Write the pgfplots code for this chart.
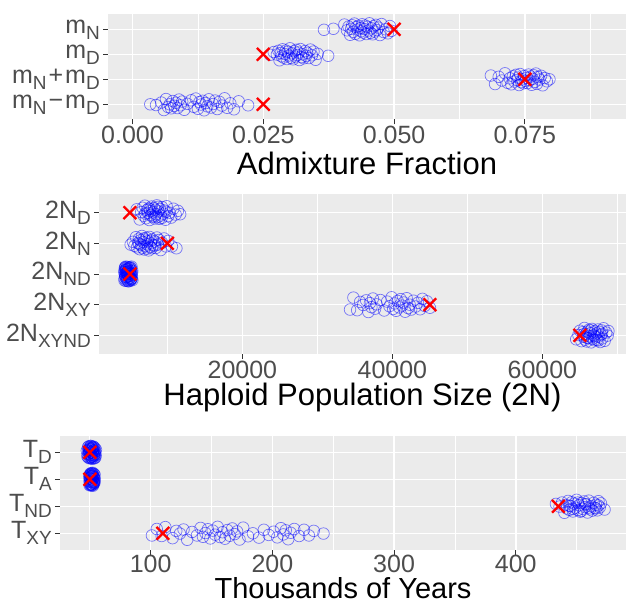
\documentclass[border=0pt]{standalone}
\usepackage{fontspec}
\setmainfont{Liberation Sans}
\usepackage{pgfplots}
\pgfplotsset{compat=1.18}

\definecolor{ggbg}{HTML}{EBEBEB}
\definecolor{ggtick}{HTML}{333333}
\definecolor{ggtext}{HTML}{4D4D4D}

% subscript as plotmath draws it
\newcommand{\sub}[1]{\raisebox{-6pt}{\fontsize{19}{19}\selectfont #1}}

\pgfplotsset{
  ggpanel/.style={
    scale only axis,
    anchor=north west,
    axis x line*=bottom,
    axis y line*=left,
    axis line style={draw=none},
    axis background/.style={fill=ggbg},
    tick align=outside,
    major tick length=5pt,
    minor tick length=0pt,
    major tick style={ggtick, line width=1pt},
    grid=both,
    major grid style={white, line width=1.5pt},
    minor grid style={white, line width=0.75pt},
    scaled ticks=false,
    ticklabel style={font=\fontsize{25}{30}\selectfont, text=ggtext, inner sep=2pt},
    yticklabel style={xshift=-1pt},
    xlabel style={font=\fontsize{31}{36}\selectfont, text=black,
      at={(axis description cs:0.5,0)}, anchor=center, yshift=-44pt},
  },
  jit/.style={only marks, mark=o, mark size=5.8pt,
    mark options={draw=blue, draw opacity=0.5, line width=0.7pt, fill=none}},
  truth/.style={only marks, mark=x, mark size=9pt,
    mark options={draw=red, line width=2.3pt}},
}

\begin{document}
\begin{tikzpicture}
\useasboundingbox (0pt,0pt) rectangle (626pt,-606pt);

% ---- admixture fractions
\begin{axis}[ggpanel, at={(108pt,-14.3pt)}, width=518pt, height=105pt,
  xmin=-0.00468, xmax=0.09433, ymin=0.4, ymax=4.6,
  xtick={0,0.025,0.05,0.075}, xticklabels={0.000,0.025,0.050,0.075},
  minor xtick={0.0125,0.0375,0.0625,0.0875},
  ytick={1,2,3,4},
  yticklabels={m\sub{N}\kern2pt−\kern2pt m\sub{D}, m\sub{N}\kern2pt+\kern2pt m\sub{D}, m\sub{D}, m\sub{N}},
  xlabel={Admixture Fraction}]
\addplot[jit] coordinates {
(0.0366,3.98) (0.0384,4.02) (0.0405,4.19) (0.0410,3.96) (0.0413,4.11) (0.0416,3.78) (0.0418,4.02) (0.0420,4.16) (0.0422,3.90) (0.0424,4.23)
(0.0426,3.82) (0.0428,4.09) (0.0430,3.99) (0.0432,4.14) (0.0434,3.76) (0.0436,4.05) (0.0437,3.92) (0.0439,4.20) (0.0441,3.87) (0.0443,4.01)
(0.0445,4.15) (0.0447,3.81) (0.0449,4.10) (0.0451,3.95) (0.0453,4.24) (0.0455,3.86) (0.0457,4.04) (0.0459,3.80) (0.0461,4.12) (0.0463,3.91)
(0.0465,4.18) (0.0467,3.97) (0.0470,4.07) (0.0473,3.77) (0.0476,4.21) (0.0480,3.89) (0.0484,4.00) (0.0488,3.84) (0.0492,4.13) (0.0495,3.94)
};
\addplot[jit] coordinates {
(0.0263,2.98) (0.0270,3.09) (0.0276,2.99) (0.0279,3.14) (0.0281,2.76) (0.0283,3.05) (0.0285,2.92) (0.0287,3.20) (0.0289,2.87) (0.0291,3.01)
(0.0293,3.15) (0.0295,2.81) (0.0297,3.10) (0.0299,2.95) (0.0301,3.24) (0.0303,2.86) (0.0305,3.04) (0.0307,2.80) (0.0309,3.12) (0.0311,2.91)
(0.0313,3.18) (0.0315,2.97) (0.0317,3.07) (0.0319,2.77) (0.0321,3.21) (0.0323,2.89) (0.0325,3.00) (0.0327,2.84) (0.0330,3.13) (0.0332,2.94)
(0.0334,3.06) (0.0337,2.85) (0.0340,3.19) (0.0343,2.96) (0.0346,3.11) (0.0350,2.78) (0.0354,3.02) (0.0374,2.94)
};
\addplot[jit] coordinates {
(0.0685,2.15) (0.0693,1.81) (0.0700,2.10) (0.0706,1.95) (0.0712,2.24) (0.0717,1.86) (0.0721,2.04) (0.0724,1.80) (0.0727,2.12) (0.0730,1.91)
(0.0733,2.18) (0.0735,1.97) (0.0737,2.07) (0.0739,1.77) (0.0741,2.21) (0.0743,1.89) (0.0745,2.00) (0.0747,1.84) (0.0749,2.13) (0.0751,1.94)
(0.0753,2.06) (0.0755,1.85) (0.0757,2.19) (0.0759,1.96) (0.0761,2.11) (0.0763,1.78) (0.0765,2.02) (0.0767,2.16) (0.0769,1.90) (0.0771,2.23)
(0.0773,1.82) (0.0775,2.09) (0.0778,1.99) (0.0781,2.14) (0.0784,1.76) (0.0788,2.05) (0.0792,1.92) (0.0797,2.00)
};
\addplot[jit] coordinates {
(0.0034,1.00) (0.0045,0.97) (0.0055,1.07) (0.0060,0.77) (0.0064,1.21) (0.0068,0.89) (0.0071,1.00) (0.0074,0.84) (0.0077,1.13) (0.0080,0.94)
(0.0083,1.06) (0.0086,0.85) (0.0089,1.19) (0.0092,0.96) (0.0095,1.11) (0.0099,0.78) (0.0105,1.02) (0.0112,1.16) (0.0117,0.90) (0.0121,1.23)
(0.0125,0.82) (0.0128,1.09) (0.0131,0.99) (0.0134,1.14) (0.0137,0.76) (0.0140,1.05) (0.0143,0.92) (0.0146,1.20) (0.0150,0.87) (0.0154,1.01)
(0.0158,1.15) (0.0162,0.81) (0.0166,1.10) (0.0171,0.95) (0.0176,1.24) (0.0181,0.86) (0.0187,1.04) (0.0194,0.80) (0.0203,1.12) (0.0221,0.96)
};
\addplot[truth] coordinates {(0.050,4) (0.025,3) (0.075,2) (0.025,1)};
\end{axis}

% ---- population sizes
\begin{axis}[ggpanel, at={(99pt,-194.3pt)}, width=527pt, height=159.4pt,
  xmin=880, xmax=71147, ymin=0.4, ymax=5.6,
  xtick={20000,40000,60000}, xticklabels={20000,40000,60000},
  minor xtick={10000,30000,50000,70000},
  ytick={1,2,3,4,5},
  yticklabels={2N\sub{XYND}, 2N\sub{XY}, 2N\sub{ND}, 2N\sub{N}, 2N\sub{D}},
  xlabel={Haploid Population Size (2N)}]
\addplot[jit] coordinates {
(5900,5.11) (6300,4.78) (6500,5.02) (6700,5.16) (6850,4.90) (7000,5.23) (7150,4.82) (7300,5.09) (7400,4.99) (7500,5.14)
(7600,4.76) (7700,5.05) (7800,4.92) (7900,5.20) (8000,4.87) (8100,5.01) (8200,5.15) (8300,4.81) (8400,5.10) (8500,4.95)
(8600,5.24) (8700,4.86) (8800,5.04) (8900,4.80) (9000,5.12) (9150,4.91) (9300,5.18) (9450,4.97) (9600,5.07) (9750,4.77)
(9900,5.21) (10100,4.89) (10300,5.00) (10500,4.84) (10800,5.13) (11100,4.94) (11400,5.06) (11700,4.95)
(7050,4.97) (7650,5.12) (8250,4.88) (8750,5.19) (9250,4.83) (9850,5.03)
};
\addplot[jit] coordinates {
(5100,3.96) (5400,4.05) (5600,3.92) (5800,4.20) (5950,3.87) (6100,4.01) (6200,4.15) (6300,3.81) (6400,4.10) (6500,3.95)
(6600,4.24) (6700,3.86) (6800,4.04) (6900,3.80) (7000,4.12) (7100,3.91) (7200,4.18) (7300,3.97) (7400,4.07) (7500,3.77)
(7600,4.21) (7700,3.89) (7800,4.00) (7900,3.84) (8000,4.13) (8150,3.94) (8300,4.06) (8450,3.85) (8600,4.19) (8750,3.96)
(8900,4.11) (9100,3.78) (9300,4.02) (9550,4.16) (9800,3.90) (10100,4.08) (10600,3.90) (11200,3.84)
(6250,3.98) (6850,4.16) (7350,3.83) (7850,4.09) (8350,3.93)
};
\addplot[jit] coordinates {
(4250,3.06) (4290,2.85) (4330,3.19) (4370,2.96) (4410,3.11) (4450,2.78) (4490,3.02) (4530,3.16) (4570,2.90) (4610,3.23)
(4650,2.82) (4690,3.09) (4730,2.99) (4770,3.14) (4810,2.76) (4850,3.05) (4890,2.92) (4930,3.20) (4970,2.87) (5010,3.01)
(5050,3.15) (5090,2.81) (5130,3.10) (5170,2.95) (5210,3.24) (5250,2.86) (5290,3.04) (5330,2.80) (4300,3.12) (4400,2.91)
(4500,3.18) (4600,2.97) (4700,3.07) (4800,2.77) (4900,3.21) (5000,2.89) (5100,3.00) (5200,2.84) (4550,3.13) (4750,2.94)
(4280,2.79) (4360,3.22) (4440,2.88) (4520,3.04) (4620,2.79) (4720,3.17) (4820,2.93) (4920,3.08) (5020,2.78) (5120,3.19)
(5220,2.98) (5310,3.11) (4340,2.99) (4660,3.01) (4980,3.03) (5160,2.83) (4460,3.24) (4860,2.83) (5060,3.22) (4580,3.06)
};
\addplot[jit] coordinates {
(34350,1.84) (34800,2.23) (35300,1.82) (35700,2.09) (36100,1.99) (36500,2.14) (36800,1.76) (37000,2.05) (37200,1.92) (37400,2.20)
(37700,1.87) (37900,2.01) (38400,2.15) (38900,1.81) (39300,2.10) (39600,1.95) (39900,2.24) (40100,1.86) (40300,2.04) (40500,1.80)
(40700,2.12) (40900,1.91) (41100,2.18) (41300,1.97) (41500,2.07) (41700,1.77) (41900,2.21) (42100,1.89) (42300,2.00) (42500,1.84)
(42800,2.13) (43100,1.94) (43400,2.06) (43700,1.85) (44000,2.19) (44300,1.96) (44600,2.11) (45000,1.90)
};
\addplot[jit] coordinates {
(64500,0.87) (64800,1.01) (65000,1.15) (65200,0.81) (65350,1.10) (65500,0.95) (65600,1.24) (65700,0.86) (65800,1.04) (65900,0.80)
(66000,1.12) (66100,0.91) (66200,1.18) (66300,0.97) (66400,1.07) (66500,0.77) (66600,1.21) (66700,0.89) (66800,1.00) (66900,0.84)
(67000,1.13) (67100,0.94) (67200,1.06) (67300,0.85) (67400,1.19) (67500,0.96) (67600,1.11) (67700,0.78) (67800,1.02) (67900,1.16)
(68000,0.90) (68150,1.23) (68300,0.82) (68500,1.09) (68700,0.99) (68800,1.14)
(65450,1.03) (65950,0.92) (66450,1.16) (66950,0.98) (67450,0.83) (67950,1.05)
};
\addplot[truth] coordinates {(5000,5) (10000,4) (5000,3) (45000,2) (65000,1)};
\end{axis}

% ---- times
\begin{axis}[ggpanel, at={(60pt,-436.1pt)}, width=566pt, height=113.4pt,
  xmin=25.47, xmax=490.6, ymin=0.4, ymax=4.6,
  xtick={100,200,300,400}, xticklabels={100,200,300,400},
  minor xtick={50,150,250,350,450},
  ytick={1,2,3,4},
  yticklabels={T\sub{XY}, T\sub{ND}, T\sub{A}, T\sub{D}},
  xticklabel style={inner sep=0pt},
  xlabel style={font=\fontsize{29}{34}\selectfont, anchor=base, yshift=-4.5pt, inner sep=0pt},
  xlabel={Thousands of Years}]
\addplot[jit] coordinates {
(47.5,4.06) (48.0,3.85) (48.5,4.19) (49.0,3.96) (49.3,4.11) (49.6,3.78) (49.9,4.02) (50.2,4.16) (50.5,3.90) (50.8,4.23)
(51.1,3.82) (51.4,4.09) (51.7,3.99) (52.0,4.14) (52.3,3.76) (52.6,4.05) (52.9,3.92) (53.2,4.20) (53.5,3.87) (53.8,4.01)
(54.1,4.15) (54.5,3.81) (55.0,4.10) (49.5,3.95) (50.5,4.24) (51.5,3.86) (52.5,4.04) (53.5,3.80) (50.0,4.12) (51.0,3.91)
(52.0,4.18) (53.0,3.97) (48.8,4.07) (51.2,3.77) (52.8,4.21) (54.8,3.89)
(48.2,3.92) (49.1,4.22) (50.3,3.79) (51.3,4.13) (52.2,3.84) (53.3,4.08) (54.2,3.94) (48.7,3.81) (49.8,4.18) (50.9,4.00)
(51.8,3.79) (52.7,4.17) (53.6,3.90) (54.4,4.03) (49.4,4.05) (50.6,3.83) (51.6,4.21) (52.4,3.97) (53.9,3.78) (50.1,3.99)
};
\addplot[jit] coordinates {
(49.5,3.11) (49.8,2.78) (50.1,3.02) (50.4,3.16) (50.7,2.90) (51.0,3.23) (51.3,2.82) (51.6,3.09) (51.9,2.99) (52.2,3.14)
(52.5,2.76) (52.8,3.05) (53.1,2.92) (53.4,3.20) (53.7,2.87) (54.0,3.01) (50.0,3.15) (50.6,2.81) (51.2,3.10) (51.8,2.95)
(52.4,3.24) (53.0,2.86) (53.6,3.04) (50.3,2.80) (50.9,3.12) (51.5,2.91) (52.1,3.18) (52.7,2.97) (53.3,3.07) (51.0,2.77)
(52.0,3.21) (53.0,2.89)
(49.7,2.93) (50.2,3.20) (50.8,2.84) (51.4,3.01) (51.9,3.22) (52.3,2.79) (52.9,3.13) (53.5,2.94) (53.9,3.17) (50.5,3.06)
(51.1,2.88) (51.7,3.13) (52.6,3.09) (53.2,2.83) (49.9,3.04) (50.4,2.96) (51.6,2.79) (52.2,3.00) (53.8,2.90) (50.9,3.19)
};
\addplot[jit] coordinates {
(433,2.09) (436,1.99) (438,2.14) (440,1.76) (441,2.05) (442,1.92) (443,2.20) (444,1.87) (445,2.01) (446,2.15)
(447,1.81) (448,2.10) (449,1.95) (450,2.24) (451,1.86) (452,2.04) (453,1.80) (454,2.12) (455,1.91) (456,2.18)
(457,1.97) (458,2.07) (459,1.77) (460,2.21) (461,1.89) (462,2.00) (463,1.84) (464,2.13) (465,1.94) (466,2.06)
(467,1.85) (468,2.19) (469,1.96) (470,2.11) (473,1.88)
(444,2.02) (447,1.90) (451,2.14) (454,1.83) (457,2.08) (460,1.95) (466,1.92) (468,2.03)
};
\addplot[jit] coordinates {
(101,0.92) (105,1.16) (109,0.90) (112,1.23) (118,0.82) (121,1.09) (124,0.99) (127,1.14) (130,0.76) (134,1.05)
(138,0.92) (141,1.20) (143,0.87) (145,1.01) (147,1.15) (149,0.81) (151,1.10) (153,0.95) (155,1.24) (157,0.86)
(159,1.04) (161,0.80) (163,1.12) (165,0.91) (167,1.18) (169,0.97) (171,1.07) (173,0.77) (176,1.21) (180,0.89)
(184,1.00) (189,0.84) (193,1.13) (197,0.94) (201,1.06) (204,0.85) (207,1.19) (209,0.96) (211,1.11) (213,0.78)
(215,1.02) (218,1.16) (222,0.90) (226,1.13) (230,0.92) (234,1.09) (242,0.99)
};
\addplot[truth] coordinates {(50,4) (50,3) (435,2) (110,1)};
\end{axis}
\end{tikzpicture}
\end{document}
